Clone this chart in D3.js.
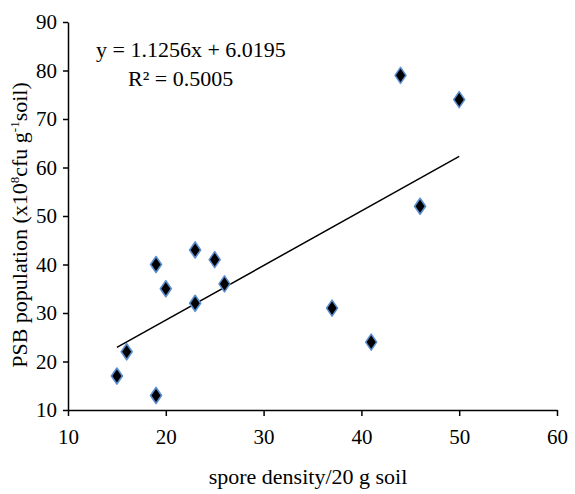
<!DOCTYPE html>
<html>
<head>
<meta charset="utf-8">
<script src="https://cdn.jsdelivr.net/npm/d3@7"></script>
<style>
	body { margin: 0; background: #fff; }
	svg text { font-family: "Liberation Serif", "DejaVu Serif", serif; fill: #000; }
</style>
</head>
<body>
<div class="chart"></div>
<script>
// spore density / 20 g soil and PSB population readings
var sporeDensity = [15, 16, 19, 19, 20, 23, 23, 25, 26, 37, 41, 44, 46, 50];
var psbPopulation = [17, 22, 13, 40, 35, 43, 32, 41, 36, 31, 24, 79, 52, 74];
var xTicks = [10, 20, 30, 40, 50, 60];
var yTicks = [10, 20, 30, 40, 50, 60, 70, 80, 90];
var trendSlope = 1.1256;
var trendIntercept = 6.0195;
var trendRange = [15, 50];

drawChart();

function drawChart() {
	var w = 575, h = 494;
	var left = 68, top = 22, right = 557, bottom = 410;

	var svg = d3.select(".chart")
				.append("svg")
				.attr("width", w)
				.attr("height", h);

	var x = d3.scaleLinear().domain([10, 60]).range([left, right]);
	var y = d3.scaleLinear().domain([10, 90]).range([bottom, top]);

	var xAxis = svg.append("g")
				.attr("transform", "translate(0," + bottom + ")")
				.call(d3.axisBottom(x).tickValues(xTicks).tickSize(6).tickPadding(13).tickSizeOuter(0));
	var yAxis = svg.append("g")
				.attr("transform", "translate(" + left + ",0)")
				.call(d3.axisLeft(y).tickValues(yTicks).tickSize(5).tickPadding(6).tickSizeOuter(0));

	[xAxis, yAxis].forEach(function(a) {
		a.select(".domain").attr("stroke", "#000").attr("stroke-width", 1.5);
		a.selectAll(".tick line").attr("stroke", "#000").attr("stroke-width", 1.5);
		a.selectAll(".tick text")
			.attr("font-family", "Liberation Serif")
			.attr("font-size", 21)
			.attr("fill", "#000");
	});

	// trend line from the fitted equation
	svg.append("line")
		.attr("x1", x(trendRange[0]))
		.attr("y1", y(trendSlope * trendRange[0] + trendIntercept))
		.attr("x2", x(trendRange[1]))
		.attr("y2", y(trendSlope * trendRange[1] + trendIntercept))
		.attr("stroke", "#000")
		.attr("stroke-width", 1.5);

	var diamond = "M0,-8L5.5,0L0,8L-5.5,0Z";
	svg.selectAll("path.point")
		.data(sporeDensity)
		.enter()
		.append("path")
		.attr("class", "point")
		.attr("d", diamond)
		.attr("transform", function(d, i) { return "translate(" + x(d) + "," + y(psbPopulation[i]) + ")"; })
		.attr("fill", "#000")
		.attr("stroke", "#5b8fd0")
		.attr("stroke-width", 1.6)
		.attr("stroke-linejoin", "round");

	svg.append("text")
		.attr("x", 96)
		.attr("y", 57)
		.attr("font-size", 22)
		.text("y = 1.1256x + 6.0195");

	svg.append("text")
		.attr("x", 128)
		.attr("y", 86)
		.attr("font-size", 22)
		.text("R\u00b2 = 0.5005");

	svg.append("text")
		.attr("x", 308)
		.attr("y", 484)
		.attr("text-anchor", "middle")
		.attr("font-size", 22)
		.text("spore density/20 g soil");

	var yTitle = svg.append("text")
		.attr("transform", "translate(27,225) rotate(-90)")
		.attr("text-anchor", "middle")
		.attr("font-size", 22);
	yTitle.append("tspan").text("PSB population (x10");
	yTitle.append("tspan").attr("font-size", 13).attr("dy", -8).text("8");
	yTitle.append("tspan").attr("dy", 8).text("cfu g");
	yTitle.append("tspan").attr("font-size", 13).attr("dy", -8).text("-1");
	yTitle.append("tspan").attr("dy", 8).text("soil)");
}
</script>
</body>
</html>
